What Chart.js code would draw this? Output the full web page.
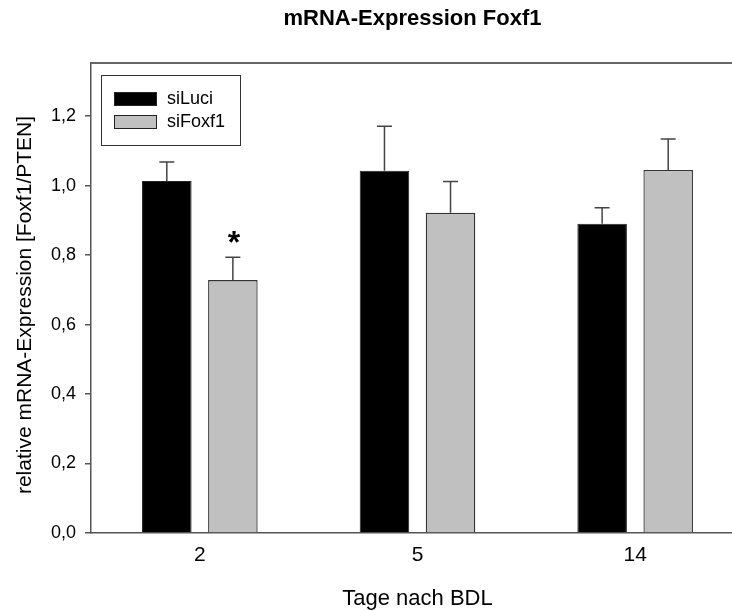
<!DOCTYPE html>
<html>
<head>
<meta charset="utf-8">
<script src="https://cdn.jsdelivr.net/npm/chart.js@4"></script>
<style>
  html, body { margin: 0; padding: 0; background: #fff; overflow: hidden; }
  #wrap { width: 732px; height: 611px; overflow: hidden; }
  canvas { display: block; }
</style>
</head>
<body>
<div id="wrap"><canvas id="c" width="760" height="611"></canvas></div>
<script>
const categories = ['2', '5', '14'];
const seriesNames = ['siLuci', 'siFoxf1'];
const siLuciValues = [1.013, 1.043, 0.890];
const siLuciErrors = [0.055, 0.128, 0.046];
const siFoxf1Values = [0.728, 0.922, 1.045];
const siFoxf1Errors = [0.066, 0.090, 0.089];
const significance = [['', '', ''], ['*', '', '']];
const yTickValues = [0, 0.2, 0.4, 0.6, 0.8, 1.0, 1.2];
const chartTitle = 'mRNA-Expression Foxf1';
const xTitle = 'Tage nach BDL';
const yTitle = 'relative mRNA-Expression [Foxf1/PTEN]';

const FONT = '"Liberation Sans", Arial, sans-serif';
const errors = [siLuciErrors, siFoxf1Errors];

const extrasPlugin = {
  id: 'extras',
  afterDatasetsDraw(chart) {
    const ctx = chart.ctx;
    const y = chart.scales.y;
    const area = chart.chartArea;
    ctx.save();
    // error bars
    chart.data.datasets.forEach((ds, di) => {
      const meta = chart.getDatasetMeta(di);
      meta.data.forEach((bar, i) => {
        const v = ds.data[i];
        const top = y.getPixelForValue(v + errors[di][i]);
        ctx.strokeStyle = '#444';
        ctx.lineWidth = 1.5;
        ctx.beginPath();
        ctx.moveTo(bar.x, bar.y);
        ctx.lineTo(bar.x, top);
        ctx.moveTo(bar.x - 7.5, top);
        ctx.lineTo(bar.x + 7.5, top);
        ctx.stroke();
        const mark = significance[di][i];
        if (mark) {
          ctx.fillStyle = '#000';
          ctx.font = 'bold 32px ' + FONT;
          ctx.textAlign = 'center';
          ctx.textBaseline = 'alphabetic';
          ctx.fillText(mark, bar.x + 1, top - 4);
        }
      });
    });
    // top frame line
    ctx.strokeStyle = '#666';
    ctx.lineWidth = 2;
    ctx.beginPath();
    ctx.moveTo(area.left, area.top);
    ctx.lineTo(chart.width, area.top);
    ctx.stroke();
    // legend
    ctx.strokeStyle = '#333';
    ctx.lineWidth = 1;
    ctx.strokeRect(101.5, 75.5, 139, 70);
    chart.data.datasets.forEach((ds, di) => {
      const sy = 92 + di * 23;
      ctx.fillStyle = ds.backgroundColor;
      ctx.fillRect(114, sy, 43, 14);
      ctx.strokeStyle = '#222';
      ctx.strokeRect(114.5, sy + 0.5, 42, 13);
      ctx.fillStyle = '#000';
      ctx.font = '18px ' + FONT;
      ctx.textAlign = 'left';
      ctx.textBaseline = 'middle';
      ctx.fillText(ds.label, 167, sy + 7.5);
    });
    // y axis title
    ctx.save();
    ctx.translate(25, 305);
    ctx.rotate(-Math.PI / 2);
    ctx.fillStyle = '#000';
    ctx.font = '21px ' + FONT;
    ctx.textAlign = 'center';
    ctx.textBaseline = 'middle';
    ctx.fillText(yTitle, 0, 0);
    ctx.restore();
    // title
    ctx.fillStyle = '#000';
    ctx.font = 'bold 22px ' + FONT;
    ctx.textAlign = 'center';
    ctx.textBaseline = 'alphabetic';
    ctx.fillText(chartTitle, 412.5, 25);
    ctx.restore();
  }
};

new Chart(document.getElementById('c'), {
  type: 'bar',
  data: {
    labels: categories,
    datasets: [
      { label: seriesNames[0], data: siLuciValues, backgroundColor: '#000000', borderColor: '#222', borderWidth: 1 },
      { label: seriesNames[1], data: siFoxf1Values, backgroundColor: '#c0c0c0', borderColor: '#333', borderWidth: 1.3 }
    ]
  },
  options: {
    responsive: false,
    animation: false,
    devicePixelRatio: 1,
    categoryPercentage: 0.607,
    barPercentage: 0.75,
    layout: { padding: { left: 0, top: 63, right: 16, bottom: 0 } },
    plugins: { legend: { display: false }, title: { display: false }, tooltip: { enabled: false } },
    scales: {
      x: {
        grid: { display: false, drawTicks: false },
        border: { display: true, color: '#555', width: 1.5 },
        ticks: { color: '#000', font: { family: FONT, size: 21 }, padding: 10 },
        title: { display: true, text: xTitle, color: '#000', font: { family: FONT, size: 22, lineHeight: 1 }, padding: { top: 0, bottom: 1 } },
        afterFit(axis) { axis.height = 78; }
      },
      y: {
        min: 0,
        max: 1.353,
        grid: { display: true, drawOnChartArea: false, drawTicks: true, tickLength: 6, color: '#555', lineWidth: 1.5 },
        border: { display: true, color: '#555', width: 1.5 },
        ticks: {
          stepSize: 0.2,
          color: '#000',
          padding: 9,
          font: { family: FONT, size: 18 },
          callback: (v) => Number(v).toFixed(1).replace('.', ',')
        },
        afterBuildTicks(axis) {
          axis.ticks = yTickValues.map(v => ({ value: v }));
        },
        title: { display: false },
        afterFit(axis) { axis.width = 91; }
      }
    }
  },
  plugins: [extrasPlugin]
});
</script>
</body>
</html>
